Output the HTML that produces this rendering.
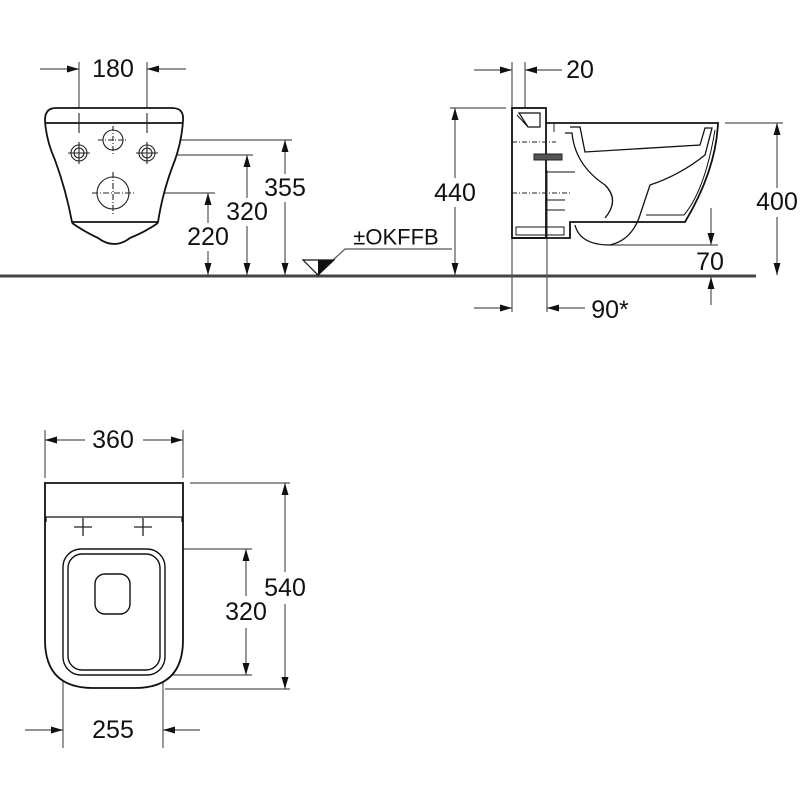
<!DOCTYPE html>
<html><head><meta charset="utf-8"><style>html,body{margin:0;padding:0;background:#fff}svg{display:block}</style></head>
<body>
<svg width="800" height="800" viewBox="0 0 800 800" xmlns="http://www.w3.org/2000/svg" font-family="Liberation Sans, sans-serif">
<defs>
<marker id="a" viewBox="0 0 12 7" refX="12" refY="3.5" markerWidth="12" markerHeight="7" orient="auto-start-reverse" markerUnits="userSpaceOnUse"><path d="M0,0L12,3.5L0,7z" fill="#111"/></marker>
</defs>
<rect width="800" height="800" fill="#fff"/>
<line x1="0" y1="276" x2="756" y2="276" stroke="#444" stroke-width="3"/>

<g stroke="#555" stroke-width="1.2" fill="none">
<line x1="79" y1="62" x2="79" y2="135"/><line x1="147" y1="62" x2="147" y2="135"/>
<line x1="40" y1="69" x2="79" y2="69" marker-end="url(#a)"/>
<line x1="186" y1="69" x2="147" y2="69" marker-end="url(#a)"/>
<line x1="137" y1="140" x2="292" y2="140"/>
<line x1="285" y1="174" x2="285" y2="140" marker-end="url(#a)"/>
<line x1="285" y1="202" x2="285" y2="275" marker-end="url(#a)"/>
<line x1="165" y1="155" x2="253" y2="155"/>
<line x1="247" y1="198" x2="247" y2="155" marker-end="url(#a)"/>
<line x1="247" y1="226" x2="247" y2="275" marker-end="url(#a)"/>
<line x1="142" y1="193" x2="215" y2="193"/>
<line x1="208" y1="223" x2="208" y2="193" marker-end="url(#a)"/>
<line x1="208" y1="251" x2="208" y2="275" marker-end="url(#a)"/>
<polyline points="333,260 345,249 452,249"/>
<line x1="450" y1="108" x2="506" y2="108"/>
<line x1="455" y1="178" x2="455" y2="108" marker-end="url(#a)"/>
<line x1="455" y1="207" x2="455" y2="275" marker-end="url(#a)"/>
<line x1="512" y1="62" x2="512" y2="312"/>
<line x1="525" y1="62" x2="525" y2="110"/>
<line x1="474" y1="70" x2="512" y2="70" marker-end="url(#a)"/>
<line x1="562" y1="70" x2="525" y2="70" marker-end="url(#a)"/>
<line x1="547" y1="170" x2="547" y2="312"/>
<line x1="474" y1="308" x2="512" y2="308" marker-end="url(#a)"/>
<line x1="585" y1="308" x2="547" y2="308" marker-end="url(#a)"/>
<line x1="725" y1="123" x2="783" y2="123"/>
<line x1="777" y1="188" x2="777" y2="123" marker-end="url(#a)"/>
<line x1="777" y1="217" x2="777" y2="275" marker-end="url(#a)"/>
<line x1="610" y1="245" x2="718" y2="245"/>
<line x1="711" y1="208" x2="711" y2="245" marker-end="url(#a)"/>
<line x1="711" y1="305" x2="711" y2="277" marker-end="url(#a)"/>
<line x1="45" y1="430" x2="45" y2="478"/><line x1="183" y1="430" x2="183" y2="478"/>
<line x1="85" y1="440" x2="45" y2="440" marker-end="url(#a)"/>
<line x1="143" y1="440" x2="183" y2="440" marker-end="url(#a)"/>
<line x1="190" y1="483" x2="290" y2="483"/>
<line x1="165" y1="689" x2="290" y2="689"/>
<line x1="285" y1="572" x2="285" y2="483" marker-end="url(#a)"/>
<line x1="285" y1="604" x2="285" y2="689" marker-end="url(#a)"/>
<line x1="150" y1="549" x2="252" y2="549"/>
<line x1="150" y1="675" x2="252" y2="675"/>
<line x1="246" y1="596" x2="246" y2="549" marker-end="url(#a)"/>
<line x1="246" y1="628" x2="246" y2="675" marker-end="url(#a)"/>
<line x1="63" y1="650" x2="63" y2="748"/><line x1="163" y1="650" x2="163" y2="748"/>
<line x1="25" y1="730" x2="63" y2="730" marker-end="url(#a)"/>
<line x1="200" y1="730" x2="163" y2="730" marker-end="url(#a)"/>
</g>

<g stroke="#111" stroke-width="1.8" fill="none">
<path d="M56,108 L172,108 Q184,108 183,120 Q182,140 175,160 Q163,190 158,222 L72,222 Q66,190 55,160 Q46,140 45,120 Q45,108 56,108 Z" fill="#fff"/>
<line x1="46" y1="123" x2="182" y2="123"/>
<path d="M72,223 Q85,232 98,238 Q114,250 130,238 Q145,232 158,223"/>
</g>
<g stroke="#222" stroke-width="1.1" fill="none">
<circle cx="113" cy="140" r="10"/>
<circle cx="79" cy="153" r="8"/><circle cx="79" cy="153" r="5"/>
<circle cx="147" cy="153" r="8"/><circle cx="147" cy="153" r="5"/>
<circle cx="113" cy="193" r="16"/>
<line x1="79" y1="113" x2="79" y2="133"/><line x1="147" y1="113" x2="147" y2="133"/>
<line x1="98" y1="140" x2="128" y2="140" stroke-dasharray="5,2,1,2"/>
<line x1="113" y1="126" x2="113" y2="154" stroke-dasharray="5,2,1,2"/>
<line x1="68" y1="153" x2="90" y2="153"/><line x1="79" y1="142" x2="79" y2="164"/>
<line x1="136" y1="153" x2="158" y2="153"/><line x1="147" y1="142" x2="147" y2="164"/>
<line x1="92" y1="193" x2="134" y2="193" stroke-dasharray="6,2,1,2"/>
<line x1="113" y1="172" x2="113" y2="214" stroke-dasharray="6,2,1,2"/>
</g>

<path d="M303,260 L334,260 L318,275 Z" fill="#fff" stroke="#111" stroke-width="1.2"/>
<path d="M318,260 L334,260 L318,275 Z" fill="#111"/>

<g stroke="#111" stroke-width="1.8" fill="none">
<rect x="512" y="108" width="34" height="130" fill="#fff"/>
<path d="M546,123 L718,123 Q716,170 685,222 L570,222 L570,238 L512,238"/>
<path d="M519,113 L540,113 L540,127 L528,127 Z" stroke-width="1.2"/>
<path d="M517,115 L528,127" stroke-width="1"/>
<path d="M570,127 L580,127 L585,152 L700,145 L705,128 L712,128 L705,155 Q680,175 650,185 L640,215" stroke-width="1.3"/>
<path d="M565,133 L572,133 Q575,165 605,185 Q620,200 605,218" stroke-width="1.3"/>
<path d="M575,225 Q580,245 610,245 Q632,240 640,215" stroke-width="1.3"/>
<path d="M646,215 L684,215 Q705,190 715,130" stroke-width="1"/>
<rect x="516" y="227" width="48" height="8" stroke-width="1"/>
<path d="M546,172 L575,172 M546,200 L565,200 M546,210 L565,210" stroke-width="1"/>
</g>
<g stroke="#222" stroke-width="1" fill="none">
<line x1="512" y1="142" x2="556" y2="142" stroke-dasharray="5,2,1,2"/>
<line x1="512" y1="193" x2="570" y2="193" stroke-dasharray="5,2,1,2"/>
<rect x="534" y="154" width="28" height="6" fill="#555"/>
<line x1="554" y1="122" x2="554" y2="132"/>
</g>

<g stroke="#111" stroke-width="1.8" fill="none">
<path d="M45,483 L183,483 L183,640 Q183,688 135,688 L93,688 Q45,688 45,640 Z" fill="#fff"/>
<path d="M46,522 L46,517 L182,517 L182,522" stroke-width="1.3"/>
<rect x="63" y="549" width="102" height="126" rx="18" stroke-width="1.4"/>
<rect x="68" y="554" width="92" height="116" rx="14" stroke-width="1.4"/>
<rect x="95" y="574" width="35" height="40" rx="10" stroke-width="1.4"/>
</g>
<g stroke="#222" stroke-width="1.3">
<line x1="74" y1="527" x2="92" y2="527"/><line x1="83" y1="518" x2="83" y2="536"/>
<line x1="134" y1="527" x2="152" y2="527"/><line x1="143" y1="518" x2="143" y2="536"/>
</g>

<g font-size="25" fill="#111" text-anchor="middle" dominant-baseline="central">
<text x="113" y="69">180</text>
<text x="285" y="188">355</text>
<text x="247" y="212">320</text>
<text x="208" y="237">220</text>
<text x="396" y="237" font-size="22">±OKFFB</text>
<text x="580" y="70">20</text>
<text x="455" y="193">440</text>
<text x="777" y="202">400</text>
<text x="710" y="262">70</text>
<text x="610" y="310">90*</text>
<text x="113" y="440">360</text>
<text x="285" y="588">540</text>
<text x="246" y="612">320</text>
<text x="113" y="730">255</text>
</g>
</svg>
</body></html>
